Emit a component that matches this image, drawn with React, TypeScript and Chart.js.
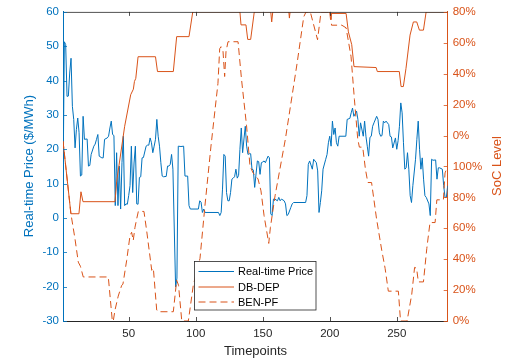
import React, { useEffect, useRef } from "react";
import { Chart, registerables } from "chart.js";

Chart.register(...registerables);

const FONT = "'Liberation Sans', Arial, Helvetica, sans-serif";
const BLUE = "#0072BD";
const ORANGE = "#D95319";
const DARK = "#262626";

// Real-time price ($/MWh) by timepoint
const priceTimes = [
  1, 2, 3, 4, 5, 6, 7, 8, 9, 10,
  11, 12, 13, 14, 15, 16, 17, 19, 20, 21,
  22, 24, 25, 26, 27, 28, 30, 31, 32, 34,
  35, 36, 37, 38, 39, 40, 41, 42, 43, 44,
  45, 46, 47, 48, 49, 50, 51, 52, 53, 54,
  55, 56, 57, 58, 59, 60, 61, 63, 64, 65,
  66, 67, 68, 69, 70, 71, 72, 73, 74, 75,
  76, 78, 79, 80, 81, 82, 83, 85, 86, 87,
  89, 91, 92, 94, 95, 96, 102, 103, 104, 105,
  106, 107, 117, 118, 119, 120, 121, 122, 123, 124,
  125, 126, 127, 128, 129, 130, 131, 132, 133, 134,
  135, 136, 137, 138, 139, 140, 141, 142, 143, 144,
  146, 147, 148, 149, 150, 151, 152, 153, 154, 155,
  156, 157, 158, 159, 161, 162, 163, 164, 166, 167,
  168, 169, 171, 172, 173, 182, 183, 184, 185, 187,
  188, 189, 190, 191, 192, 193, 194, 195, 197, 198,
  199, 200, 201, 202, 203, 204, 205, 206, 207, 212,
  213, 215, 216, 217, 218, 220, 221, 222, 223, 225,
  226, 227, 228, 229, 230, 231, 232, 233, 235, 236,
  237, 238, 239, 240, 241, 242, 244, 245, 246, 247,
  249, 250, 251, 252, 253, 254, 255, 256, 257, 258,
  259, 260, 261, 262, 264, 265, 266, 267, 268, 269,
  270, 271, 272, 274, 275, 276, 277, 279, 280, 281,
  282, 284, 285, 286, 287, 288,
];
const priceValues = [
  8, 51.3, 50.5, 35.4, 35.5, 42.2, 46.5, 32.5, 28.7, 20.4,
  25.8, 29.1, 24.8, 12.2, 12.5, 29.6, 22.9, 23.0, 15.1, 15.3,
  18.5, 20.9, 21.5, 22.9, 24.3, 18.0, 17.5, 17.5, 22.9, 23.3,
  23.8, 26.2, 28.2, 24.3, 24.0, 3.6, 19.0, 3.6, 15.1, 2.6,
  16.1, 23.8, 3.6, 4.1, 4.0, 6.5, 9.4, 20.9, 7.4, 16,
  20.9, 4.1, 4.0, 11.8, 12.0, 17.5, 17.6, 20.9, 21.2, 21.2,
  23.3, 21.9, 19.0, 20.9, 22.9, 28.7, 23.8, 20.9, 16.1, 12.2,
  12.0, 12.1, 15.1, 15.1, 15.6, 18.5, 14.2, -20.1, -17.5, 20.9,
  20.8, 20.9, 12.2, 12.2, 3.6, 2.6, 2.6, 5.0, 4.6, 1.6,
  2.6, 1.6, 1.6, 0.7, 1.6, 8.4, 18.5, 18.0, 7.4, 5.0,
  5.0, 7.4, 11.3, 11.6, 12.0, 14.2, 11.6, 12.4, 20.0, 26.2,
  19.0, 23.0, 26.7, 20.9, 18.5, 18.7, 18.7, 14.2, 14.0, 8.9,
  16.6, 16.4, 12.7, 16.1, 16.3, 16.6, 16.1, 17.1, 18.0, 17.5,
  1.2, 0.7, 5.5, 5.5, 5.0, 6.0, 5.0, 5.5, 5.0, 4.1,
  0.7, 1.0, 3.1, 4.1, 4.5, 4.5, 6.5, 15.6, 16.6, 14.2,
  17.1, 16.6, 16.1, 13.7, 1.6, 4.5, 7.9, 14.2, 17.1, 18.5,
  21.9, 23.8, 20.9, 28.2, 24.3, 26.2, 21.9, 20.9, 23.8, 23.8,
  28.7, 29.0, 30.6, 32.0, 29.6, 31.1, 28.7, 23.8, 27.7, 23.8,
  28.2, 23.8, 20.9, 18.0, 23.5, 23.8, 26.7, 27.7, 29.6, 28.7,
  24.8, 23.8, 24.0, 28.2, 27.7, 28.2, 27.2, 23.8, 23.6, 20.4,
  23.3, 20.0, 22.5, 26.7, 33.5, 30.6, 21.9, 14.2, 14.6, 19.0,
  14.2, 6.5, 4.5, 9.4, 17.1, 22.9, 28.2, 20.0, 14.2, 17.5,
  11.3, 6.5, 6.0, 4.1, 0.7, 17.1, 16.8, 16.9, 11.3, 14.6,
  14.6, 14.2, 9.4, 6.0, 6.0, 9.4,
];

// DB-DEP state of charge, in right-axis units
const dbdepTimes = [
  1, 6.9, 12.9, 14.4, 15.9, 39.8, 41, 47, 51.5, 53.5,
  54.3, 55.3, 57, 70, 71.5, 83.3, 85.8, 95, 97.8, 133,
  133.8, 137.5, 138.8, 141, 143.7, 156, 156.7, 157.5, 169.5, 169.9,
  170.4, 200, 200.6, 201.2, 212.2, 213.9, 216.4, 218.1, 234.6, 235.5,
  251.9, 253.2, 254.9, 256.9, 259.9, 262.4, 264.9, 266.9, 269.9, 271.9,
  288,
];
const dbdepValues = [
  116.4, 69.4, 69.4, 83.6, 77.2, 77.2, 90, 126, 146.4, 150,
  155, 157, 171, 171, 161.4, 161.4, 184, 184, 200, 200,
  191.6, 191.6, 182.2, 182.2, 200, 200, 193.5, 200, 200, 196,
  200, 200, 195, 199, 199, 187.1, 178.8, 164.6, 164, 161.4,
  161.4, 151.7, 151.7, 163.5, 185, 193.5, 193.5, 188.2, 188.2, 200,
  200,
];

// BEN-PF state of charge, in right-axis units
const benpfTimes = [
  1, 6.9, 9.9, 12.4, 14, 16.1, 34.8, 37.8, 38.5, 39.8,
  42.2, 44.8, 45.7, 48.5, 51, 52.2, 53.4, 54.7, 56, 57.2,
  61.4, 63.4, 67.2, 68.4, 70.9, 72.1, 83.3, 85.8, 87.2, 89.6,
  94.5, 98.2, 103.2, 106.9, 111.4, 116.6, 117.9, 118.9, 120.4, 121.6,
  122.6, 124.1, 131.6, 134.2, 137.9, 140.5, 142.8, 146.5, 148.7, 151,
  154.5, 155.7, 159.2, 166.9, 175.6, 180.6, 182.3, 185.5, 190.9, 193.5,
  201, 201.3, 209, 212.2, 215.9, 218.4, 220.9, 222.1, 224.6, 226.6,
  228.4, 231.2, 234.9, 238.8, 241.3, 243.7, 251.2, 252.8, 257.7, 261.2,
  263.3, 264.8, 266.1, 269.9, 272.4, 274.8, 278.6, 279.9, 284.8, 286,
  288,
];
const benpfValues = [
  116.4, 69.4, 53.4, 38.1, 35.4, 28.5, 28.5, 0, 0, 7.1,
  16.1, 23.1, 23.8, 39.2, 55.3, 57.4, 52.1, 60.6, 66.2, 70.9,
  70.9, 58.5, 32.8, 34.1, 7.1, 6, 6, 26.4, 23.1, 0,
  0, 23.1, 40.5, 74.6, 113.2, 153.7, 176.2, 177.5, 174.3, 158.2,
  174.3, 180.7, 180.7, 156.2, 126.7, 100.3, 95.8, 91.9, 84.2, 68.2,
  50.2, 60.4, 81, 117.7, 166.5, 196.8, 200, 200, 182, 200,
  200, 191.4, 191.4, 189.7, 171, 143.4, 117.7, 112.5, 112.5, 98.4,
  89.6, 89.6, 66.2, 45.7, 34.1, 19.3, 19.3, 0, 0, 17.4,
  34.7, 34.1, 25.3, 25.3, 46.9, 63.7, 63.7, 78.4, 78.4, 95.8,
  100.3,
];

const xTickValues = [50, 100, 150, 200, 250];
const legendLabels = ["Real-time Price", "DB-DEP", "BEN-PF"];

const socLabel = (v: number) => (v <= 100 ? `${v}%` : `${v - 120}%`);

const decor = {
  id: "decor",
  afterDatasetsDraw(chart: any) {
    const { ctx, chartArea: a, scales } = chart;
    ctx.save();
    // top box line
    ctx.strokeStyle = DARK;
    ctx.lineWidth = 0.8;
    ctx.beginPath();
    ctx.moveTo(a.left, a.top + 0.5);
    ctx.lineTo(a.right, a.top + 0.5);
    ctx.stroke();
    // inner tick marks
    const tl = 4;
    ctx.beginPath();
    scales.x.ticks.forEach((t: any) => {
      const x = Math.round(scales.x.getPixelForValue(t.value)) + 0.5;
      ctx.moveTo(x, a.bottom);
      ctx.lineTo(x, a.bottom - tl);
      ctx.moveTo(x, a.top);
      ctx.lineTo(x, a.top + tl);
    });
    ctx.stroke();
    ctx.strokeStyle = BLUE;
    ctx.beginPath();
    scales.y.ticks.forEach((t: any) => {
      const y = Math.round(scales.y.getPixelForValue(t.value)) + 0.5;
      ctx.moveTo(a.left, y);
      ctx.lineTo(a.left + tl, y);
    });
    ctx.stroke();
    ctx.strokeStyle = ORANGE;
    ctx.beginPath();
    scales.y1.ticks.forEach((t: any) => {
      const y = Math.round(scales.y1.getPixelForValue(t.value)) + 0.5;
      ctx.moveTo(a.right, y);
      ctx.lineTo(a.right - tl, y);
    });
    ctx.stroke();

    // legend
    const lx = 194.5, ly = 261.5, lw = 121.5, lh = 48.5;
    ctx.fillStyle = "#ffffff";
    ctx.fillRect(lx, ly, lw, lh);
    ctx.strokeStyle = DARK;
    ctx.lineWidth = 0.8;
    ctx.strokeRect(lx, ly, lw, lh);
    const rows = [271, 286.5, 301.5];
    chart.data.datasets.forEach((ds: any, i: number) => {
      ctx.strokeStyle = ds.borderColor;
      ctx.lineWidth = 1;
      ctx.setLineDash(ds.borderDash || []);
      ctx.beginPath();
      ctx.moveTo(198.5, rows[i] + 0.5);
      ctx.lineTo(234, rows[i] + 0.5);
      ctx.stroke();
      ctx.setLineDash([]);
      ctx.fillStyle = "#000000";
      ctx.font = `11px ${FONT}`;
      ctx.textAlign = "left";
      ctx.textBaseline = "middle";
      ctx.fillText(legendLabels[i], 238, rows[i] + 1);
    });
    ctx.restore();
  },
  afterDraw(chart: any) {
    const { ctx } = chart;
    ctx.save();
    ctx.font = `13px ${FONT}`;
    ctx.textAlign = "center";
    ctx.textBaseline = "middle";
    ctx.fillStyle = DARK;
    ctx.fillText("Timepoints", 255.5, 351);
    ctx.save();
    ctx.translate(29.5, 166);
    ctx.rotate(-Math.PI / 2);
    ctx.fillStyle = BLUE;
    ctx.fillText("Real-time Price ($/MWh)", 0, 0);
    ctx.restore();
    ctx.save();
    ctx.translate(497.5, 166);
    ctx.rotate(-Math.PI / 2);
    ctx.fillStyle = ORANGE;
    ctx.fillText("SoC Level", 0, 0);
    ctx.restore();
    ctx.restore();
  },
};

export default function App() {
  const ref = useRef<HTMLCanvasElement>(null);
  useEffect(() => {
    const canvas = ref.current!;
    const tickFont = { family: FONT, size: 11.5 };
    const chart = new Chart(canvas, {
      type: "line",
      data: {
        datasets: [
          {
            label: legendLabels[0],
            data: priceTimes.map((t, i) => ({ x: t, y: priceValues[i] })),
            yAxisID: "y",
            borderColor: BLUE,
            borderWidth: 1,
            pointRadius: 0,
            tension: 0,
            order: 3,
          },
          {
            label: legendLabels[1],
            data: dbdepTimes.map((t, i) => ({ x: t, y: dbdepValues[i] })),
            yAxisID: "y1",
            borderColor: ORANGE,
            borderWidth: 1,
            pointRadius: 0,
            tension: 0,
            order: 2,
          },
          {
            label: legendLabels[2],
            data: benpfTimes.map((t, i) => ({ x: t, y: benpfValues[i] })),
            yAxisID: "y1",
            borderColor: ORANGE,
            borderWidth: 1,
            borderDash: [7, 4],
            pointRadius: 0,
            tension: 0,
            order: 1,
          },
        ],
      },
      options: {
        responsive: false,
        animation: false,
        layout: { padding: { top: 10, left: 0, right: 0, bottom: 0 } },
        plugins: { legend: { display: false }, tooltip: { enabled: false } },
        scales: {
          x: {
            type: "linear",
            min: 1,
            max: 288,
            grid: { display: false, drawTicks: false },
            border: { color: DARK, width: 1 },
            ticks: { stepSize: 50, padding: 6, color: DARK, font: tickFont, maxRotation: 0 },
            afterBuildTicks: (s: any) => {
              s.ticks = xTickValues.map((v) => ({ value: v }));
            },
            afterFit: (s: any) => {
              s.height = 40;
            },
          },
          y: {
            type: "linear",
            position: "left",
            min: -30,
            max: 60,
            grid: { display: false, drawTicks: false },
            border: { color: BLUE, width: 1 },
            ticks: { stepSize: 10, padding: 4, color: BLUE, font: tickFont },
            afterFit: (s: any) => {
              s.width = 63;
            },
          },
          y1: {
            type: "linear",
            position: "right",
            min: 0,
            max: 200,
            grid: { display: false, drawTicks: false },
            border: { color: ORANGE, width: 1 },
            ticks: {
              stepSize: 20,
              padding: 5,
              color: ORANGE,
              font: tickFont,
              callback: (v: any) => socLabel(Number(v)),
            },
            afterFit: (s: any) => {
              s.width = 61.3;
            },
          },
        },
      },
      plugins: [decor],
    } as any);
    return () => chart.destroy();
  }, []);
  return (
    <div style={{ position: "fixed", left: 0, top: 0, width: 509, height: 361, background: "#fff" }}>
      <canvas ref={ref} width={509} height={361} style={{ display: "block" }} />
    </div>
  );
}
